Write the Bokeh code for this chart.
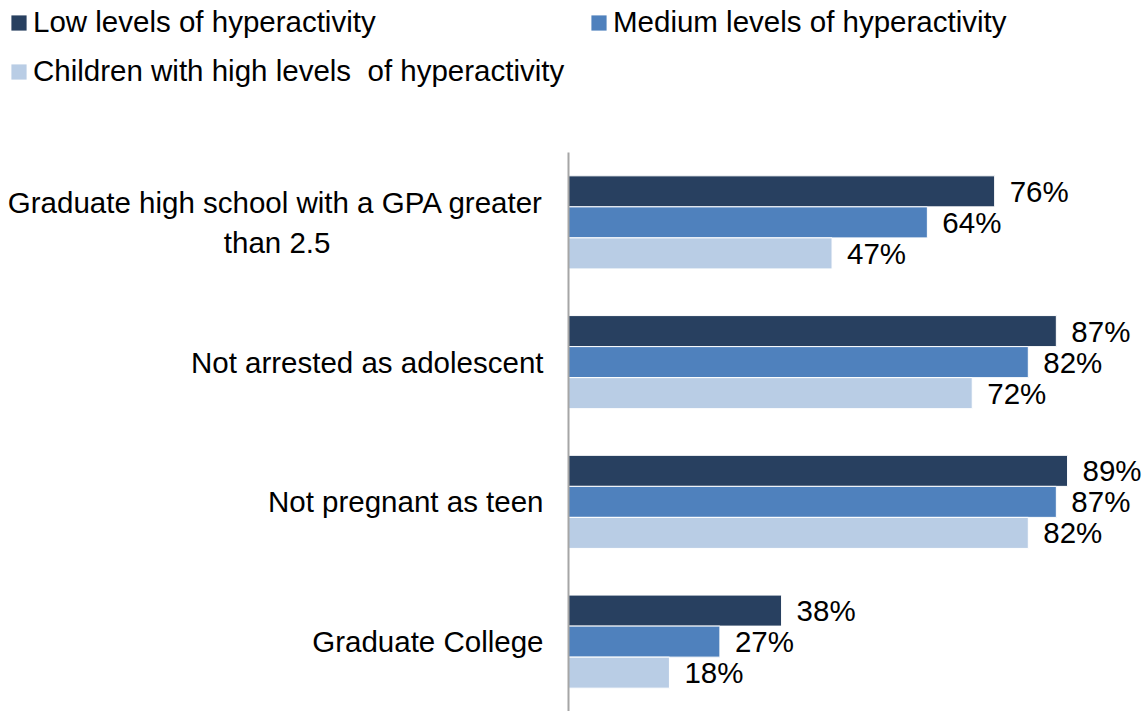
from bokeh.plotting import figure
from bokeh.layouts import column, row
from bokeh.models import FactorRange, Range1d, Legend, LegendItem, ColumnDataSource
from bokeh.transform import dodge
from bokeh.core.properties import value
from bokeh.embed import file_html
from bokeh.resources import INLINE

NBSP = "\u00a0"
categories = [
    "Graduate high school with a GPA greater\nthan 2.5" + NBSP * 26,
    "Not arrested as adolescent",
    "Not pregnant as teen",
    "Graduate College",
]
series_names = [
    "Low levels of hyperactivity",
    "Medium levels of hyperactivity",
    "Children with high levels  of hyperactivity",
]
low = [76, 87, 89, 38]
medium = [64, 82, 87, 27]
high = [47, 72, 82, 18]

colors = ["#284060", "#4F81BD", "#B9CDE5"]
FONT = "Liberation Sans"
FS = "29.5px"

# ---- main chart ----
y_factors = list(reversed(categories))
p = figure(
    width=1146, height=559,
    y_range=FactorRange(factors=y_factors),
    x_range=Range1d(0, 103.08),
    output_backend="svg", toolbar_location=None,
    min_border_left=568, min_border_right=0, min_border_top=0, min_border_bottom=0,
)

offsets = [0.222, 0.0, -0.222]
bar_h = 0.222
for name, vals, col, off in zip(series_names, [low, medium, high], colors, offsets):
    src = ColumnDataSource(dict(cat=categories, val=vals, label=[f"{v}%" for v in vals]))
    p.hbar(y=dodge("cat", off, range=p.y_range), right="val", left=0, height=bar_h,
           source=src, fill_color=col, line_color="white", line_width=1)
    p.text(x="val", y=dodge("cat", off, range=p.y_range), text="label", source=src,
           x_offset=15, text_align="left", text_baseline="middle",
           text_font=value(FONT), text_font_size=FS, text_color="black")

p.yaxis.major_label_text_font = FONT
p.yaxis.major_label_text_font_size = FS
p.yaxis.major_label_text_color = "black"
p.yaxis.major_label_standoff = 19
p.yaxis.major_tick_line_color = None
p.yaxis.minor_tick_line_color = None
p.yaxis.axis_line_color = "#A6A6A6"
p.yaxis.axis_line_width = 2
p.xaxis.visible = False
p.grid.visible = False
p.outline_line_color = None

# ---- legend strip (its own frame spans the full width) ----
lg = figure(
    width=1146, height=152, x_range=Range1d(0, 1), y_range=Range1d(0, 1),
    output_backend="svg", toolbar_location=None,
    min_border_left=0, min_border_right=0, min_border_top=0, min_border_bottom=0,
)
lg.xaxis.visible = False
lg.yaxis.visible = False
lg.grid.visible = False
lg.outline_line_color = None
# zero-size legend proxies, one per series colour
proxies = []
for col in colors:
    proxies.append(lg.hbar(y=[0], right=[0], left=0, height=0,
                           fill_color=col, line_color=None))

legend = Legend(
    items=[LegendItem(label=n, renderers=[r]) for n, r in zip(series_names, proxies)],
    location=(9, 64), orientation="horizontal", ncols=2,
    glyph_width=19, glyph_height=19, label_standoff=5,
    label_text_font=FONT, label_text_font_size=FS, label_text_color="black",
    label_height=34, label_width=541, spacing=15, padding=0, margin=0,
    border_line_color=None, background_fill_alpha=0,
)
lg.add_layout(legend, "center")

layout = column(row(lg), p, spacing=0)
open("out.html", "w").write(file_html(layout, INLINE))
